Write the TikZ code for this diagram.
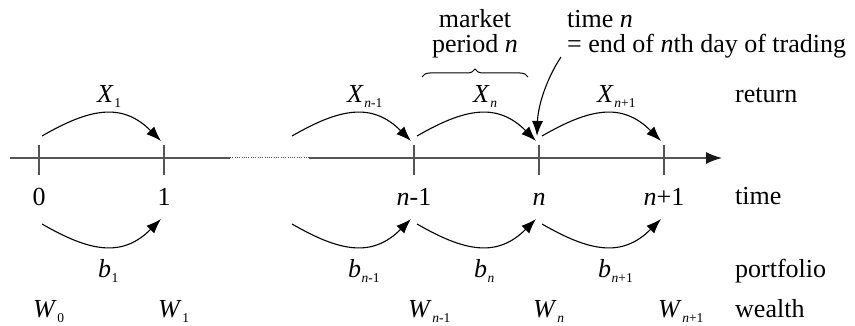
\documentclass[tikz,border=0pt]{standalone}
\usepackage{fontspec}
\setmainfont{LiberationSerif}[Extension=.ttf, UprightFont=*-Regular, ItalicFont=*-Italic, BoldFont=*-Bold, BoldItalicFont=*-BoldItalic]
\usetikzlibrary{arrows.meta,decorations.pathreplacing}
\newcommand\sbs[1]{\kern0.5pt\raisebox{-5pt}{\fontsize{13.5}{14}\selectfont #1}}
\newcommand\lv[2]{\textit{#1}\sbs{#2}}
\definecolor{axisgray}{RGB}{85,85,85}
\tikzset{
  txt/.style={inner sep=0pt, font=\fontsize{26}{30}\selectfont},
  arc/.style={line width=1.1pt, -{Latex[length=15pt,width=11pt]}},
  tick/.style={draw=axisgray, line width=1.2pt},
}
\begin{document}
\begin{tikzpicture}[x=1pt,y=-1pt]
\useasboundingbox (0,0) rectangle (855,326);
% axis
\coordinate (ax0) at (10,158);
\coordinate (axd1) at (230,158);
\coordinate (axd2) at (309,158);
\coordinate (axE) at (722,158);
\draw[axisgray, line width=1.4pt] (ax0) -- (axd1);
\draw[axisgray, line width=1pt, dash pattern=on 1pt off 1.3pt] (axd1) -- (axd2);
\draw[axisgray, line width=1.4pt, -{Latex[length=16pt,width=12pt,color=black!90]}] (axd2) -- (axE);
% ticks and time labels
\foreach \t/\nm/\lab in {39/0/0, 164/1/1, 414/nm/\textit{n}-1, 539/n/\textit{n}, 664/np/\textit{n}+1}{
  \coordinate (tt\nm) at (\t,145);
  \coordinate (tb\nm) at (\t,175);
  \draw[tick] (tt\nm) -- (tb\nm);
  \node[txt, anchor=base] (t\nm) at (\t,206) {\lab};
}
% arcs
\foreach \t/\nm in {39/a, 289/b, 414/c, 539/d}{
  \coordinate (us\nm) at (\t+3,136);
  \coordinate (ue\nm) at (\t+122,141);
  \coordinate (ls\nm) at (\t+3,224);
  \coordinate (le\nm) at (\t+122,219);
  \draw[arc] (us\nm) .. controls +(47.6,-27.5) and +(-39,-39) .. (ue\nm);
  \draw[arc] (ls\nm) .. controls +(47.6,27.5) and +(-39,39) .. (le\nm);
}
% return labels
\node[txt, anchor=base west] (x1) at (97,103) {\lv{X}{1}};
\node[txt, anchor=base west] (xnm) at (347,103) {\lv{X}{\textit{n}-1}};
\node[txt, anchor=base west] (xn) at (473,103) {\lv{X}{\textit{n}}};
\node[txt, anchor=base west] (xnp) at (597,103) {\lv{X}{\textit{n}+1}};
% portfolio labels
\node[txt, anchor=base west] (b1) at (98,277) {\lv{b}{1}};
\node[txt, anchor=base west] (bnm) at (348,277) {\lv{b}{\textit{n}-1}};
\node[txt, anchor=base west] (bn) at (474,277) {\lv{b}{\textit{n}}};
\node[txt, anchor=base west] (bnp) at (598,277) {\lv{b}{\textit{n}+1}};
% wealth labels
\node[txt, anchor=base west] (w0) at (33,317) {\lv{W}{0}};
\node[txt, anchor=base west] (w1) at (158,317) {\lv{W}{1}};
\node[txt, anchor=base west] (wnm) at (408,317) {\lv{W}{\textit{n}-1}};
\node[txt, anchor=base west] (wn) at (533,317) {\lv{W}{\textit{n}}};
\node[txt, anchor=base west] (wnp) at (658,317) {\lv{W}{\textit{n}+1}};
% row names
\node[txt, anchor=base west] (rret) at (735,103) {return};
\node[txt, anchor=base west] (rtime) at (735,205) {time};
\node[txt, anchor=base west] (rport) at (735,277) {portfolio};
\node[txt, anchor=base west] (rwealth) at (735,317) {wealth};
% market period
\node[txt, anchor=base] (mk) at (475,28) {market};
\node[txt, anchor=base] (pd) at (475,53) {period \textit{n}};
\coordinate (brL) at (422,77);
\coordinate (brR) at (528,77);
\draw[line width=1pt, decorate, decoration={brace, amplitude=8pt}] (brL) -- (brR);
% time n
\node[txt, anchor=base west] (tn) at (567,28) {time \textit{n}};
\node[txt, anchor=base west] (endn) at (567,53) {= end of \textit{n}th day of trading};
\coordinate (tas) at (561,57);
\coordinate (tae) at (537,136);
\draw[arc] (tas) .. controls (547,78) and (538,105) .. (tae);
\end{tikzpicture}
\end{document}
